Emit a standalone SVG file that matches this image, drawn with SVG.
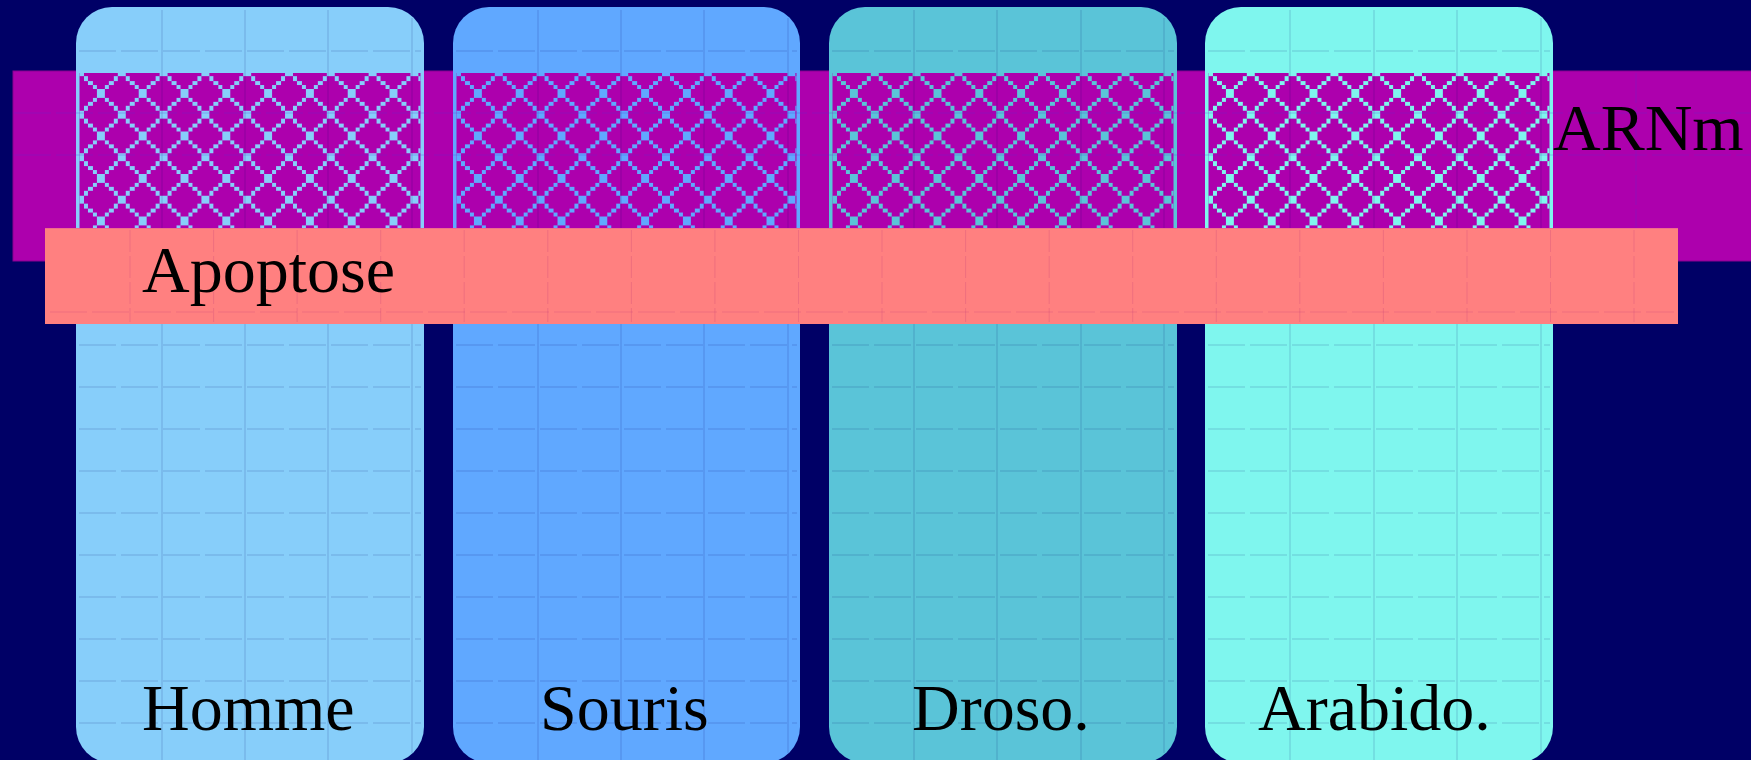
<svg xmlns="http://www.w3.org/2000/svg" xmlns:xlink="http://www.w3.org/1999/xlink" width="1751" height="760" viewBox="0 0 1751 760">
<style>
  text { font-family: "Liberation Serif", "Times New Roman", serif; font-size: 66px; fill: #000000; }
  .bgrid { stroke: #000066; stroke-opacity: 0.18; stroke-width: 1; fill: none; }
  .dash { stroke-dasharray: 37 5; }
  .purple { fill: #ad00ad; }
  .bandgrid { stroke: #5a2ad0; stroke-opacity: 0.28; stroke-width: 1; fill: none; }
  .pinkgrid { stroke: #c03a78; stroke-opacity: 0.25; stroke-width: 1; fill: none; }
</style>
<defs>
  <path id="xc" shape-rendering="crispEdges" d="M0 0h4.2v4.25h-4.2z M4.18 4.25h4.2v4.25h-4.2z M8.36 8.5h4.2v4.25h-4.2z M12.54 12.75h4.2v4.25h-4.2z M16.72 17h4.2v4.25h-4.2z M20.9 21.25h4.2v4.25h-4.2z M25.08 25.5h4.2v4.25h-4.2z M29.26 29.75h4.2v4.25h-4.2z M33.44 34h4.2v4.25h-4.2z M37.62 38.25h4.18v4.25h-4.18z M37.62 0h4.18v4.25h-4.18z M33.44 4.25h4.2v4.25h-4.2z M29.26 8.5h4.2v4.25h-4.2z M25.08 12.75h4.2v4.25h-4.2z M20.9 17h4.2v4.25h-4.2z M16.72 21.25h4.2v4.25h-4.2z M12.54 25.5h4.2v4.25h-4.2z M8.36 29.75h4.2v4.25h-4.2z M4.18 34h4.2v4.25h-4.2z M0 38.25h4.2v4.25h-4.2z"/>
  <pattern id="p-homme" patternUnits="userSpaceOnUse" x="80" y="72.2" width="41.8" height="42.5"><use xlink:href="#xc" fill="#87cefa"/></pattern>
  <pattern id="p-souris" patternUnits="userSpaceOnUse" x="457" y="72.2" width="41.8" height="42.5"><use xlink:href="#xc" fill="#60a8ff"/></pattern>
  <pattern id="p-droso" patternUnits="userSpaceOnUse" x="833" y="72.2" width="41.8" height="42.5"><use xlink:href="#xc" fill="#5ac4d8"/></pattern>
  <pattern id="p-arabido" patternUnits="userSpaceOnUse" x="1209" y="72.2" width="41.8" height="42.5"><use xlink:href="#xc" fill="#7ff6ee"/></pattern>
</defs>

<rect x="0" y="0" width="1751" height="760" fill="#000066"/>

<g id="band-arnm">
  <rect class="purple" x="13" y="71" width="1740" height="190" stroke="#8a0090" stroke-width="1"/>
  <line class="bandgrid" x1="1636" y1="73" x2="1636" y2="260" stroke-dasharray="30 4"/>
</g>

<g id="node-homme">
  <rect x="76" y="7" width="348" height="756" rx="36" fill="#87cefa"/>
  <rect class="purple" x="79.5" y="73" width="341" height="160"/>
  <rect x="79.5" y="73" width="341" height="160" fill="url(#p-homme)"/>
  <g class="bgrid">
    <line x1="162" y1="10" x2="162" y2="760"/><line x1="245" y1="10" x2="245" y2="760"/>
    <line x1="328" y1="10" x2="328" y2="760"/><line x1="412" y1="18" x2="412" y2="753"/>
  </g>
  <g class="bgrid dash">
    <line x1="79" y1="51" x2="421" y2="51"/><line x1="79" y1="345" x2="421" y2="345"/>
    <line x1="79" y1="387" x2="421" y2="387"/><line x1="79" y1="429" x2="421" y2="429"/>
    <line x1="79" y1="471" x2="421" y2="471"/><line x1="79" y1="513" x2="421" y2="513"/>
    <line x1="79" y1="555" x2="421" y2="555"/><line x1="79" y1="597" x2="421" y2="597"/>
    <line x1="79" y1="639" x2="421" y2="639"/><line x1="79" y1="681" x2="421" y2="681"/>
    <line x1="79" y1="723" x2="421" y2="723"/>
  </g>
  <text x="142" y="730">Homme</text>
</g>

<g id="node-souris">
  <rect x="453" y="7" width="347" height="756" rx="36" fill="#60a8ff"/>
  <rect class="purple" x="456.5" y="73" width="340" height="160"/>
  <rect x="456.5" y="73" width="340" height="160" fill="url(#p-souris)"/>
  <g class="bgrid">
    <line x1="538" y1="10" x2="538" y2="760"/><line x1="621" y1="10" x2="621" y2="760"/>
    <line x1="704" y1="10" x2="704" y2="760"/><line x1="788" y1="18" x2="788" y2="753"/>
  </g>
  <g class="bgrid dash">
    <line x1="456" y1="51" x2="797" y2="51"/><line x1="456" y1="345" x2="797" y2="345"/>
    <line x1="456" y1="387" x2="797" y2="387"/><line x1="456" y1="429" x2="797" y2="429"/>
    <line x1="456" y1="471" x2="797" y2="471"/><line x1="456" y1="513" x2="797" y2="513"/>
    <line x1="456" y1="555" x2="797" y2="555"/><line x1="456" y1="597" x2="797" y2="597"/>
    <line x1="456" y1="639" x2="797" y2="639"/><line x1="456" y1="681" x2="797" y2="681"/>
    <line x1="456" y1="723" x2="797" y2="723"/>
  </g>
  <text x="540" y="730">Souris</text>
</g>

<g id="node-droso">
  <rect x="829" y="7" width="348" height="756" rx="36" fill="#5ac4d8"/>
  <rect class="purple" x="832.5" y="73" width="341" height="160"/>
  <rect x="832.5" y="73" width="341" height="160" fill="url(#p-droso)"/>
  <g class="bgrid">
    <line x1="914" y1="10" x2="914" y2="760"/><line x1="997" y1="10" x2="997" y2="760"/>
    <line x1="1081" y1="10" x2="1081" y2="760"/><line x1="1164" y1="18" x2="1164" y2="753"/>
  </g>
  <g class="bgrid dash">
    <line x1="832" y1="51" x2="1174" y2="51"/><line x1="832" y1="345" x2="1174" y2="345"/>
    <line x1="832" y1="387" x2="1174" y2="387"/><line x1="832" y1="429" x2="1174" y2="429"/>
    <line x1="832" y1="471" x2="1174" y2="471"/><line x1="832" y1="513" x2="1174" y2="513"/>
    <line x1="832" y1="555" x2="1174" y2="555"/><line x1="832" y1="597" x2="1174" y2="597"/>
    <line x1="832" y1="639" x2="1174" y2="639"/><line x1="832" y1="681" x2="1174" y2="681"/>
    <line x1="832" y1="723" x2="1174" y2="723"/>
  </g>
  <text x="912" y="730">Droso.</text>
</g>

<g id="node-arabido">
  <rect x="1205" y="7" width="348" height="756" rx="36" fill="#7ff6ee"/>
  <rect class="purple" x="1208.5" y="73" width="341" height="160"/>
  <rect x="1208.5" y="73" width="341" height="160" fill="url(#p-arabido)"/>
  <g class="bgrid">
    <line x1="1290" y1="10" x2="1290" y2="760"/><line x1="1374" y1="10" x2="1374" y2="760"/>
    <line x1="1457" y1="10" x2="1457" y2="760"/><line x1="1541" y1="18" x2="1541" y2="753"/>
  </g>
  <g class="bgrid dash">
    <line x1="1208" y1="51" x2="1550" y2="51"/><line x1="1208" y1="345" x2="1550" y2="345"/>
    <line x1="1208" y1="387" x2="1550" y2="387"/><line x1="1208" y1="429" x2="1550" y2="429"/>
    <line x1="1208" y1="471" x2="1550" y2="471"/><line x1="1208" y1="513" x2="1550" y2="513"/>
    <line x1="1208" y1="555" x2="1550" y2="555"/><line x1="1208" y1="597" x2="1550" y2="597"/>
    <line x1="1208" y1="639" x2="1550" y2="639"/><line x1="1208" y1="681" x2="1550" y2="681"/>
    <line x1="1208" y1="723" x2="1550" y2="723"/>
  </g>
  <text x="1258" y="730">Arabido.</text>
</g>

<g id="band-arnm-overlay">
  <line class="bandgrid dash" x1="14" y1="113" x2="1751" y2="113"/>
  <line class="bandgrid dash" x1="14" y1="155" x2="1751" y2="155"/>
  <text x="1553" y="150">ARNm</text>
</g>

<g id="band-apoptose">
  <rect x="45" y="228" width="1633" height="96" fill="#ff8080"/>
  <line x1="45" y1="228.5" x2="1678" y2="228.5" stroke="#e05a9a" stroke-opacity="0.5" stroke-width="1"/>
  <g class="pinkgrid" stroke-dasharray="22 4">
    <line x1="130" y1="230" x2="130" y2="322"/><line x1="213.6" y1="230" x2="213.6" y2="322"/>
    <line x1="297.1" y1="230" x2="297.1" y2="322"/><line x1="380.7" y1="230" x2="380.7" y2="322"/>
    <line x1="464.2" y1="230" x2="464.2" y2="322"/><line x1="547.8" y1="230" x2="547.8" y2="322"/>
    <line x1="631.4" y1="230" x2="631.4" y2="322"/><line x1="714.9" y1="230" x2="714.9" y2="322"/>
    <line x1="798.5" y1="230" x2="798.5" y2="322"/><line x1="882" y1="230" x2="882" y2="322"/>
    <line x1="965.6" y1="230" x2="965.6" y2="322"/><line x1="1049.2" y1="230" x2="1049.2" y2="322"/>
    <line x1="1132.7" y1="230" x2="1132.7" y2="322"/><line x1="1216.3" y1="230" x2="1216.3" y2="322"/>
    <line x1="1299.8" y1="230" x2="1299.8" y2="322"/><line x1="1383.4" y1="230" x2="1383.4" y2="322"/>
    <line x1="1467" y1="230" x2="1467" y2="322"/><line x1="1550.5" y1="230" x2="1550.5" y2="322"/>
    <line x1="1634" y1="230" x2="1634" y2="322"/>
  </g>
  <line class="pinkgrid dash" x1="50" y1="312" x2="1674" y2="312"/>
  <text x="142" y="292">Apoptose</text>
</g>

<g id="connectors"></g>
</svg>
